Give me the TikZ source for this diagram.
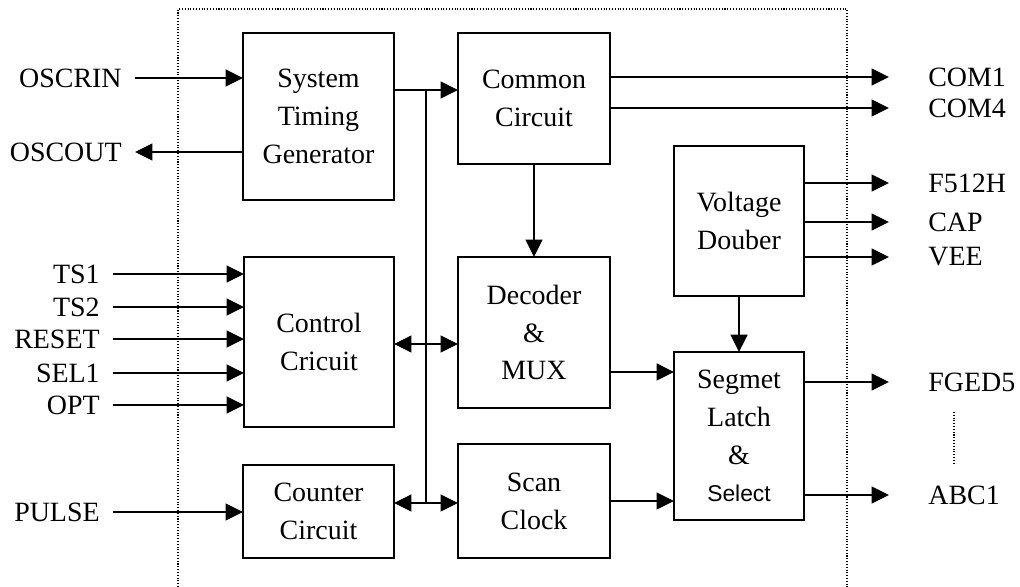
\documentclass[tikz,border=0pt]{standalone}
\usepackage{fontspec}
\setmainfont{Liberation Serif}
\newfontfamily\selfont{Liberation Sans}
\usepackage{tikz}
\usetikzlibrary{
        arrows.meta,
        positioning
    }

\begin{document}
\begin{tikzpicture}
[x=0.02cm, y=-0.02cm,
baseshape/.style={font=\fontsize{15.9}{21.5}\selectfont},
block/.style={baseshape, rectangle, draw=black, line width=1pt, align=center, inner sep=0pt, outer sep=0pt},
inlabel/.style={baseshape, anchor=east, inner xsep=0.26cm, inner ysep=0pt},
outlabel/.style={baseshape, anchor=west, inner xsep=0.78cm, inner ysep=0pt},
arrow/.style={line width=1pt, -{Triangle[length=0.35cm, width=0.34cm]}},
biarrow/.style={line width=1pt, {Triangle[length=0.35cm, width=0.34cm]}-{Triangle[length=0.35cm, width=0.34cm]}},
wire/.style={line width=1pt},
border/.style={line width=0.6pt, densely dotted}]

    \useasboundingbox (0,0) rectangle (1020,587);

    \node (stg) [block, minimum width=3.02cm, minimum height=3.34cm] at (318.5,116.5) {System\\Timing\\Generator};
    \node (common) [block, minimum width=3.04cm, minimum height=2.62cm] at (534,98.5) {Common\\Circuit};
    \node (control) [block, minimum width=3.0cm, minimum height=3.4cm] at (319,342) {Control\\Cricuit};
    \node (counter) [block, minimum width=3.02cm, minimum height=1.86cm] at (318.5,511.5) {Counter\\Circuit};
    \node (decoder) [block, minimum width=3.04cm, minimum height=3.02cm] at (534,332.5) {Decoder\\\&\\MUX};
    \node (scan) [block, minimum width=3.04cm, minimum height=2.28cm] at (534,501) {Scan\\Clock};
    \node (voltage) [block, minimum width=2.6cm, minimum height=3.0cm] at (739,221) {Voltage\\Douber};
    \node (segmet) [block, minimum width=2.6cm, minimum height=3.36cm] at (739,436) {Segmet\\Latch\\\&\\{\selfont\fontsize{13}{21.5}\selectfont Select}};

    \node (oscrin) [inlabel] at (135,78) {OSCRIN};
    \node (oscout) [inlabel] at (135,152) {OSCOUT};
    \node (ts1) [inlabel] at (113,274) {TS1};
    \node (ts2) [inlabel] at (113,307) {TS2};
    \node (reset) [inlabel] at (113,339) {RESET};
    \node (sel1) [inlabel] at (113,373) {SEL1};
    \node (opt) [inlabel] at (113,405) {OPT};
    \node (pulse) [inlabel] at (113,512) {PULSE};

    \node (com1) [outlabel] at (889,77) {COM1};
    \node (com4) [outlabel] at (889,108) {COM4};
    \node (f512h) [outlabel] at (889,183) {F512H};
    \node (cap) [outlabel] at (889,222) {CAP};
    \node (vee) [outlabel] at (889,257) {VEE};
    \node (fged5) [outlabel] at (889,382) {FGED5};
    \node (abc1) [outlabel] at (889,495) {ABC1};

    \coordinate (bustop) at (426,90);
    \coordinate (busmid) at (426,344);
    \coordinate (busbot) at (426,503);

    \draw[border] (178,587) -- (178,9) -- (847,9) -- (847,587);
    \draw[border] (954,412) -- (954,463);

    \draw[arrow] (oscrin) -- (oscrin -| stg.west);
    \draw[arrow] (stg.west |- oscout) -- (oscout);
    \foreach \pin in {ts1,ts2,reset,sel1,opt}
        \draw[arrow] (\pin) -- (\pin -| control.west);
    \draw[arrow] (pulse) -- (pulse -| counter.west);

    \draw[arrow] (stg.east |- bustop) -- (common.west |- bustop);
    \draw[wire] (bustop) -- (busbot);
    \draw[biarrow] (control.east |- busmid) -- (decoder.west |- busmid);
    \draw[biarrow] (counter.east |- busbot) -- (scan.west |- busbot);

    \draw[arrow] (common) -- (decoder);
    \draw[arrow] (voltage) -- (segmet);
    \draw[arrow] ([yshift=-0.79cm]decoder.east) -- ([yshift=-0.79cm]decoder.east -| segmet.west);
    \draw[arrow] (scan) -- (scan -| segmet.west);

    \foreach \pin in {com1,com4}
        \draw[arrow] (common.east |- \pin) -- (\pin);
    \foreach \pin in {f512h,cap,vee}
        \draw[arrow] (voltage.east |- \pin) -- (\pin);
    \foreach \pin in {fged5,abc1}
        \draw[arrow] (segmet.east |- \pin) -- (\pin);
\end{tikzpicture}
\end{document}
